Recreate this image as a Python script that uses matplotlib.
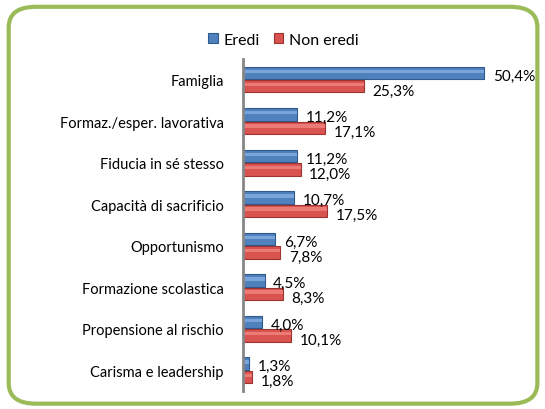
import matplotlib.pyplot as plt
import numpy as np
from matplotlib.patches import FancyBboxPatch

categories = ['Famiglia', 'Formaz./esper. lavorativa', 'Fiducia in sé stesso',
              'Capacità di sacrificio', 'Opportunismo', 'Formazione scolastica',
              'Propensione al rischio', 'Carisma e leadership']
eredi = [50.4, 11.2, 11.2, 10.7, 6.7, 4.5, 4.0, 1.3]
non_eredi = [25.3, 17.1, 12.0, 17.5, 7.8, 8.3, 10.1, 1.8]

plt.rcParams['font.family'] = ['Lato', 'DejaVu Sans']

fig = plt.figure(figsize=(5.45, 4.1), dpi=100)
ax = fig.add_axes([0.446, 0.044, 0.527, 0.81])

y = np.arange(len(categories))
h = 0.3
b1 = ax.barh(y - 0.16, eredi, height=h, color='#4F81BD', edgecolor='#2F5A8E', linewidth=0.8, label='Eredi')
b2 = ax.barh(y + 0.16, non_eredi, height=h, color='#D9534F', edgecolor='#9C3532', linewidth=0.8, label='Non eredi')
# lighter stripe for the glossy look
ax.barh(y - 0.2, eredi, height=0.08, color='#7AA5DA', linewidth=0)
ax.barh(y + 0.12, non_eredi, height=0.08, color='#EC7B78', linewidth=0)

for yy, v in zip(y, eredi):
    ax.text(v + 1.8, yy - 0.1, f'{v:.1f}%'.replace('.', ','), va='center', ha='left', fontsize=11)
for yy, v in zip(y, non_eredi):
    ax.text(v + 1.8, yy + 0.26, f'{v:.1f}%'.replace('.', ','), va='center', ha='left', fontsize=11)

ax.set_xlim(0, 60)
ax.set_ylim(len(categories) - 0.5, -0.5)
ax.set_yticks(y)
ax.set_yticklabels(categories, fontsize=10.5)
ax.tick_params(axis='y', length=0, pad=14)
ax.set_xticks([])
for s in ['top', 'right', 'bottom']:
    ax.spines[s].set_visible(False)
ax.spines['left'].set_color('#868686')
ax.spines['left'].set_linewidth(2)

fig.legend(handles=[b1, b2], loc='center', bbox_to_anchor=(0.52, 0.9), ncol=2, frameon=False,
           fontsize=11.5, handlelength=0.6, handleheight=0.6, handletextpad=0.35, columnspacing=0.9)

border = FancyBboxPatch((0.016, 0.013), 0.97, 0.968, boxstyle='round,pad=0,rounding_size=0.05',
                        transform=fig.transFigure, fill=False, edgecolor='#9BBB59', linewidth=3)
fig.patches.append(border)

fig.savefig('out.png', dpi=100)
